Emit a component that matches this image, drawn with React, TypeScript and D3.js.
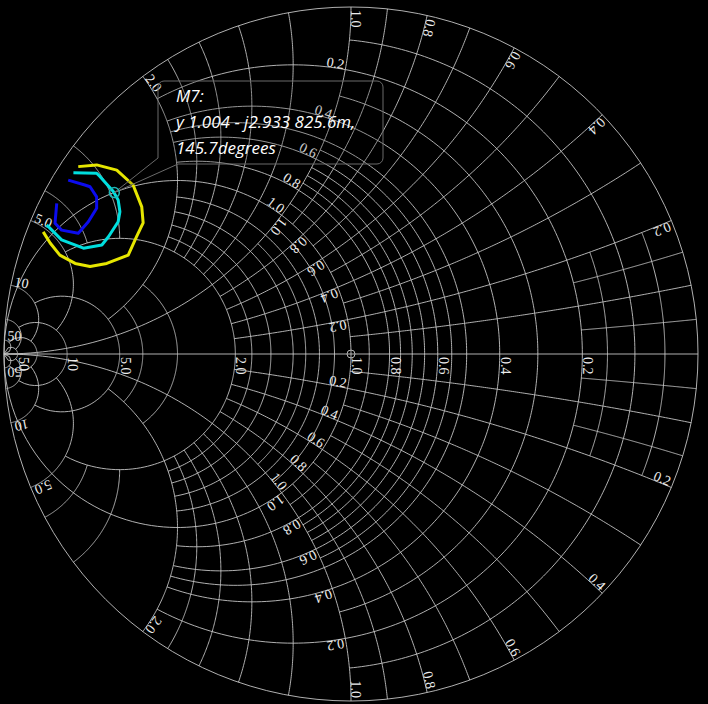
import * as d3 from "d3";

// admittance smith chart, values are normalised admittance y = g + jb
const W = 708;
const H = 704;
const CX = 351;
const CY = 354;
const RAD = 347;

// constant conductance circles and the |b| where each one stops
const gValues = [0.05, 0.1, 0.15, 0.2, 0.3, 0.4, 0.5, 0.55, 0.6, 0.65, 0.7, 0.75, 0.8, 0.9, 1.0, 1.1, 1.2, 1.3, 1.4, 1.6, 1.8, 2.0, 3, 4, 5, 10, 20, 50];
const gStops = [0.2, 1, 0.2, 2, 1, 2, 2, 1, 2, 1, 1, 1, 2, 1, Infinity, 1, 2, 1, 2, 2, 2, 5, 2, 2, 10, 20, 50, Infinity];
// constant susceptance arcs and the g where each one stops
const bValues = [0.05, 0.1, 0.15, 0.2, 0.3, 0.4, 0.5, 0.6, 0.7, 0.8, 0.9, 1.0, 1.2, 1.4, 1.6, 1.8, 2.0, 3, 4, 5, 10, 20, 50];
const bStops = [0.2, 1, 0.2, 2, 1, 2, 1, 2, 1, 2, 1, Infinity, 2, 2, 2, 2, 5, 2, 2, 10, 20, 50, Infinity];

const axisLabels = [0.2, 0.4, 0.6, 0.8, 1.0, 2.0, 5.0, 10, 50];
const rimLabels = [0.2, 0.4, 0.6, 0.8, 1.0, 2.0, 5.0, 10, 50];
const unitLabels = [0.2, 0.4, 0.6, 0.8, 1.0];

// traces, reflection coefficient (re, im)
const yellowRe = [-0.887, -0.867, -0.839, -0.795, -0.752, -0.704, -0.642, -0.618, -0.599, -0.603, -0.628, -0.675, -0.733, -0.786];
const yellowIm = [0.352, 0.320, 0.285, 0.261, 0.252, 0.261, 0.285, 0.338, 0.378, 0.424, 0.487, 0.530, 0.545, 0.540];
const cyanRe = [-0.877, -0.834, -0.771, -0.718, -0.699, -0.671, -0.666, -0.671, -0.685, -0.723, -0.733, -0.800];
const cyanIm = [0.372, 0.329, 0.305, 0.314, 0.338, 0.381, 0.410, 0.444, 0.468, 0.511, 0.521, 0.522];
const blueRe = [-0.848, -0.853, -0.834, -0.786, -0.757, -0.733, -0.733, -0.752, -0.767, -0.815];
const blueIm = [0.434, 0.377, 0.357, 0.348, 0.381, 0.420, 0.453, 0.482, 0.487, 0.501];

const marker = { name: "M7", g: 1.004, b: -2.933, mag: 0.8256, phase: 145.7 };

const xs = d3.scaleLinear().domain([-1, 1]).range([CX - RAD, CX + RAD]);
const ys = d3.scaleLinear().domain([-1, 1]).range([CY + RAD, CY - RAD]);

function gamma(g: number, b: number): [number, number] {
  const den = (1 + g) * (1 + g) + b * b;
  return [(1 - g * g - b * b) / den, (-2 * b) / den];
}
function pt(g: number, b: number): [number, number] {
  const [re, im] = gamma(g, b);
  return [xs(re), ys(im)];
}

const line = d3.line<[number, number]>();

function gPath(g: number, stop: number) {
  const t1 = Math.atan(stop === Infinity ? 1e9 : stop);
  const pts = d3.range(0, 241).map((i) => pt(g, Math.tan(-t1 + (2 * t1 * i) / 240)));
  return line(pts) || "";
}
function bPath(b: number, stop: number) {
  const t1 = Math.atan(stop === Infinity ? 1e9 : stop);
  const pts = d3.range(0, 161).map((i) => pt(Math.tan((t1 * i) / 160), b));
  return line(pts) || "";
}

const fmt = (v: number) => (v < 10 ? v.toFixed(1) : String(v));

interface Lab { x: number; y: number; rot: number; anchor: string; text: string }

// put text along direction T from P, always reading "downwards"
function place(P: [number, number], T: [number, number], text: string, gap = 2): Lab {
  const n = Math.hypot(T[0], T[1]);
  const tx = T[0] / n, ty = T[1] / n;
  const x = P[0] + tx * gap, y = P[1] + ty * gap;
  if (ty >= 0) return { x, y, rot: (Math.atan2(ty, tx) * 180) / Math.PI, anchor: "start", text };
  return { x, y, rot: (Math.atan2(-ty, -tx) * 180) / Math.PI, anchor: "end", text };
}

function buildLabels(): Lab[] {
  const out: Lab[] = [];
  axisLabels.forEach((v) => {
    const [x, y] = pt(v, 0);
    out.push({ x: x + 1, y: y + 3, rot: 90, anchor: "start", text: fmt(v) });
  });
  rimLabels.forEach((v) => {
    [v, -v].forEach((b) => {
      const P = pt(0, b);
      out.push(place(P, [CX - P[0], CY - P[1]], fmt(v), 3));
    });
  });
  unitLabels.forEach((v) => {
    [1, -1].forEach((s) => {
      // conductance value written along b = ±1
      const P = pt(v, s);
      const Q = pt(v, s * 1.01);
      out.push(place(P, [Q[0] - P[0], Q[1] - P[1]], fmt(v)));
      // susceptance value written along g = 1
      const P2 = pt(1, s * v);
      const Q2 = pt(1.01, s * v);
      out.push(place(P2, [Q2[0] - P2[0], Q2[1] - P2[1]], fmt(v)));
    });
  });
  return out;
}

function Callout() {
  const mRe = marker.mag * Math.cos((marker.phase * Math.PI) / 180);
  const mIm = marker.mag * Math.sin((marker.phase * Math.PI) / 180);
  const mx = xs(mRe), my = ys(mIm);
  const l = 158, t = 81, r = 383, bt = 164, c = 6;
  const p = d3.path();
  p.moveTo(l + c, t);
  p.lineTo(r - c, t);
  p.arcTo(r, t, r, t + c, c);
  p.lineTo(r, bt - c);
  p.arcTo(r, bt, r - c, bt, c);
  p.lineTo(l + 20, bt);
  p.lineTo(mx, my);
  p.lineTo(l, bt - 6);
  p.lineTo(l, t + c);
  p.arcTo(l, t, l + c, t, c);
  p.closePath();
  const fs = { fontFamily: "'Open Sans', sans-serif", fontStyle: "italic", fontSize: 17, fill: "#fff" } as const;
  return (
    <g>
      <path d={p.toString()} fill="rgba(0,0,0,0.15)" stroke="#6a6a6a" strokeWidth={1} />
      <circle cx={mx} cy={my} r={5} fill="none" stroke="#1fb5b5" strokeWidth={1.5} />
      <text x={176} y={102} style={fs}>{marker.name}:</text>
      <text x={176} y={128} style={fs}>
        {`y ${marker.g.toFixed(3)} - j${Math.abs(marker.b).toFixed(3)} ${(marker.mag * 1000).toFixed(1)}m,`}
      </text>
      <text x={176} y={154} style={fs}>{`${marker.phase.toFixed(1)}degrees`}</text>
    </g>
  );
}

function trace(re: number[], im: number[]) {
  return line(re.map((v, i) => [xs(v), ys(im[i])] as [number, number])) || "";
}

export default function App() {
  const labels = buildLabels();
  return (
    <svg width={W} height={H} style={{ position: "absolute", left: 0, top: 0, background: "#000" }}>
      <rect width={W} height={H} fill="#000" />
      <g fill="none" stroke="#c4c4c4" strokeWidth={0.9}>
        <circle cx={CX} cy={CY} r={RAD} />
        <line x1={CX - RAD} y1={CY} x2={CX + RAD} y2={CY} />
        {gValues.map((g, i) => <path key={"g" + i} d={gPath(g, gStops[i])} />)}
        {bValues.map((b, i) => (
          <g key={"b" + i}>
            <path d={bPath(b, bStops[i])} />
            <path d={bPath(-b, bStops[i])} />
          </g>
        ))}
        <circle cx={CX} cy={CY} r={4} />
      </g>
      <g style={{ fontFamily: "'Liberation Serif', serif", fontSize: 14 }} fill="#ececec">
        {labels.map((d, i) => (
          <text key={i} textAnchor={d.anchor} transform={`translate(${d.x},${d.y}) rotate(${d.rot})`}>{d.text}</text>
        ))}
      </g>
      <g fill="none" strokeWidth={3} strokeLinejoin="round">
        <path d={trace(yellowRe, yellowIm)} stroke="#e6e600" />
        <path d={trace(cyanRe, cyanIm)} stroke="#00dede" />
        <path d={trace(blueRe, blueIm)} stroke="#0c0cee" />
      </g>
      <Callout />
    </svg>
  );
}
